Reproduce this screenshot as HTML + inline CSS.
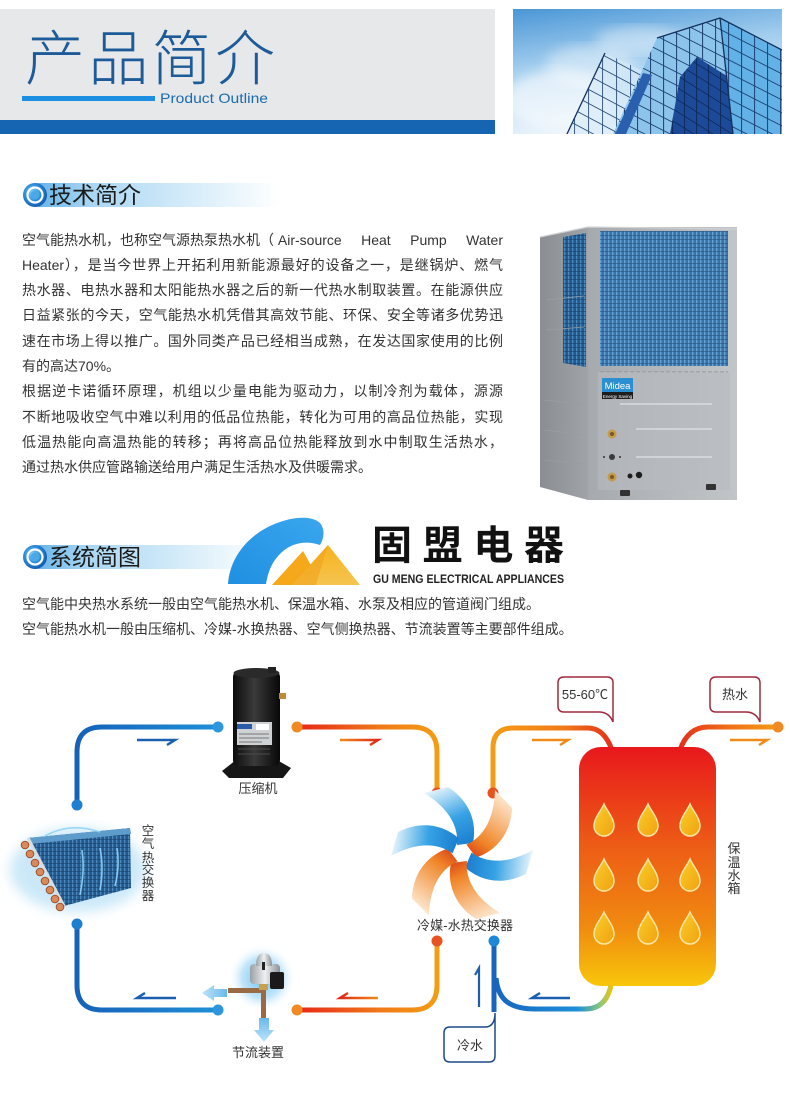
<!DOCTYPE html>
<html>
<head>
<meta charset="utf-8">
<style>
  html,body{margin:0;padding:0;background:#fff;}
  #page{position:relative;width:790px;height:1107px;overflow:hidden;background:#fff;
    font-family:"Liberation Sans","Noto Sans CJK SC",sans-serif;}
  svg{position:absolute;left:0;top:0;}
  .para{position:absolute;left:22px;top:227.5px;width:481px;font-size:14px;line-height:25.3px;color:#333;}
  .para div{height:25.3px;overflow:visible;white-space:nowrap;}
  .j{text-align:justify;text-align-last:justify;white-space:normal !important;}
  .fx{display:flex;justify-content:space-between;}
  .h2{position:absolute;left:49px;font-size:23px;line-height:30px;color:#1b1b1b;}
  .intro{position:absolute;left:22px;font-size:14px;line-height:20px;color:#333;white-space:nowrap;}
</style>
</head>
<body>
<div id="page">
<svg width="790" height="1107" viewBox="0 0 790 1107" xmlns="http://www.w3.org/2000/svg">
  <defs>
    <linearGradient id="sky" x1="0" y1="0" x2="0.3" y2="1">
      <stop offset="0" stop-color="#4a96d6"/>
      <stop offset="0.45" stop-color="#a2cdee"/>
      <stop offset="1" stop-color="#eef6fc"/>
    </linearGradient>
    <filter id="blur6"><feGaussianBlur stdDeviation="6"/></filter>
    <pattern id="gridA" width="13" height="13" patternUnits="userSpaceOnUse" patternTransform="skewY(27)">
      <path d="M0,0.5 H13 M0.5,0 V13" stroke="#1d3f72" stroke-width="1" fill="none"/>
    </pattern>
    <pattern id="gridB" width="12" height="12" patternUnits="userSpaceOnUse" patternTransform="skewY(32)">
      <path d="M0,0.5 H12 M0.5,0 V12" stroke="#0e2a5c" stroke-width="1" fill="none"/>
    </pattern>
    <pattern id="gridL" width="14" height="14" patternUnits="userSpaceOnUse" patternTransform="skewY(28)">
      <path d="M0,0.5 H14 M0.5,0 V14" stroke="#2c4f7a" stroke-width="0.9" fill="none"/>
    </pattern>
    <clipPath id="bclip"><rect x="513" y="9" width="269" height="125"/></clipPath>

    <linearGradient id="hbar" x1="0" y1="0" x2="1" y2="0">
      <stop offset="0" stop-color="#5aaee6"/>
      <stop offset="0.25" stop-color="#a9d6f3"/>
      <stop offset="0.7" stop-color="#dcefFA"/>
      <stop offset="1" stop-color="#ffffff"/>
    </linearGradient>
    <radialGradient id="icon" cx="0.4" cy="0.4" r="0.6">
      <stop offset="0" stop-color="#8fd2f6"/>
      <stop offset="0.6" stop-color="#2a8ad6"/>
      <stop offset="1" stop-color="#145fae"/>
    </radialGradient>

    <linearGradient id="mfront" x1="0" y1="0" x2="1" y2="0">
      <stop offset="0" stop-color="#a6aaae"/>
      <stop offset="1" stop-color="#c2c5c8"/>
    </linearGradient>
    <linearGradient id="mside" x1="0" y1="0" x2="1" y2="0">
      <stop offset="0" stop-color="#8a8e92"/>
      <stop offset="1" stop-color="#a0a4a8"/>
    </linearGradient>
    <pattern id="coil" width="4" height="4" patternUnits="userSpaceOnUse">
      <rect width="4" height="4" fill="#2c6aa3"/>
      <rect width="1.4" height="4" fill="#5b9dd0"/>
      <rect y="3.2" width="4" height="0.6" fill="#20497a"/>
    </pattern>
    <pattern id="coil2" width="4" height="4" patternUnits="userSpaceOnUse">
      <rect width="4" height="4" fill="#25598d"/>
      <rect width="1.3" height="4" fill="#4b89bd"/>
      <rect y="3.2" width="4" height="0.6" fill="#1b406b"/>
    </pattern>

    <linearGradient id="logoBlue" x1="0" y1="1" x2="1" y2="0">
      <stop offset="0" stop-color="#1f8fe0"/>
      <stop offset="1" stop-color="#3aa6ee"/>
    </linearGradient>
    <linearGradient id="logoY" x1="0" y1="0" x2="0" y2="1">
      <stop offset="0" stop-color="#f7b21c"/>
      <stop offset="1" stop-color="#f5c451"/>
    </linearGradient>

    <linearGradient id="blueH" gradientUnits="userSpaceOnUse" x1="77" y1="0" x2="218" y2="0">
      <stop offset="0" stop-color="#1562b8"/>
      <stop offset="1" stop-color="#1f8fd8"/>
    </linearGradient>
    <linearGradient id="redH" gradientUnits="userSpaceOnUse" x1="297" y1="0" x2="437" y2="0">
      <stop offset="0" stop-color="#e8261a"/>
      <stop offset="0.6" stop-color="#f07a18"/>
      <stop offset="1" stop-color="#f49c14"/>
    </linearGradient>
    <linearGradient id="orgR" gradientUnits="userSpaceOnUse" x1="493" y1="0" x2="612" y2="0">
      <stop offset="0" stop-color="#f49c14"/>
      <stop offset="0.6" stop-color="#f07a18"/>
      <stop offset="1" stop-color="#e4301a"/>
    </linearGradient>
    <linearGradient id="hotOut" gradientUnits="userSpaceOnUse" x1="680" y1="0" x2="778" y2="0">
      <stop offset="0" stop-color="#e4301a"/>
      <stop offset="0.5" stop-color="#f07018"/>
      <stop offset="1" stop-color="#f49c14"/>
    </linearGradient>
    <linearGradient id="coldRet" gradientUnits="userSpaceOnUse" x1="496" y1="0" x2="612" y2="0">
      <stop offset="0" stop-color="#1666c0"/>
      <stop offset="0.7" stop-color="#1e8fd8"/>
      <stop offset="0.9" stop-color="#8cc87a"/>
      <stop offset="1" stop-color="#f2c20e"/>
    </linearGradient>
    <linearGradient id="arrR" gradientUnits="userSpaceOnUse" x1="340" y1="0" x2="378" y2="0">
      <stop offset="0" stop-color="#f08a18"/>
      <stop offset="1" stop-color="#e02a18"/>
    </linearGradient>
    <linearGradient id="arrR2" gradientUnits="userSpaceOnUse" x1="340" y1="0" x2="378" y2="0">
      <stop offset="0" stop-color="#e02a18"/>
      <stop offset="1" stop-color="#f08a18"/>
    </linearGradient>

    <linearGradient id="tank" x1="0" y1="0" x2="0" y2="1">
      <stop offset="0" stop-color="#e8181c"/>
      <stop offset="0.4" stop-color="#ed5a16"/>
      <stop offset="0.75" stop-color="#f08a10"/>
      <stop offset="1" stop-color="#f8c60a"/>
    </linearGradient>
    <linearGradient id="drop" x1="0" y1="0" x2="1" y2="1">
      <stop offset="0" stop-color="#f8d02a"/>
      <stop offset="1" stop-color="#f2a010"/>
    </linearGradient>
    <g id="dropShape">
      <path d="M0,-16 C3,-9 10,-2 10,6 A10,10 0 0 1 -10,6 C-10,-2 -3,-9 0,-16 Z" fill="url(#drop)" stroke="#fde6a2" stroke-width="1.5"/>
    </g>

    <linearGradient id="bladeB" gradientUnits="userSpaceOnUse" x1="0" y1="0" x2="-28" y2="-64">
      <stop offset="0" stop-color="#1577cc"/>
      <stop offset="0.5" stop-color="#36a2e4"/>
      <stop offset="1" stop-color="#e6f4fc"/>
    </linearGradient>
    <linearGradient id="bladeO" gradientUnits="userSpaceOnUse" x1="0" y1="0" x2="-28" y2="-64">
      <stop offset="0" stop-color="#d63a16"/>
      <stop offset="0.3" stop-color="#f08426"/>
      <stop offset="1" stop-color="#fde8cf"/>
    </linearGradient>
    <path id="blade" d="M-5,-8 C-3,-28 -15,-46 -38,-60 L-14,-66 C9,-51 15,-29 11,-10 Z"/>

    <linearGradient id="compBody" x1="0" y1="0" x2="1" y2="0">
      <stop offset="0" stop-color="#0b0b0b"/>
      <stop offset="0.45" stop-color="#3a3a3a"/>
      <stop offset="1" stop-color="#080808"/>
    </linearGradient>
    <radialGradient id="glow" cx="0.5" cy="0.5" r="0.5">
      <stop offset="0" stop-color="#5cb8f0" stop-opacity="0.95"/>
      <stop offset="0.6" stop-color="#9ad4f6" stop-opacity="0.6"/>
      <stop offset="1" stop-color="#ffffff" stop-opacity="0"/>
    </radialGradient>
    <linearGradient id="silver" x1="0" y1="0" x2="1" y2="0">
      <stop offset="0" stop-color="#9aa0a6"/>
      <stop offset="0.5" stop-color="#eef0f2"/>
      <stop offset="1" stop-color="#8a9096"/>
    </linearGradient>
    <linearGradient id="lbArrow" x1="1" y1="0" x2="0" y2="0">
      <stop offset="0" stop-color="#58b2ea"/>
      <stop offset="1" stop-color="#b8e0f8"/>
    </linearGradient>
    <linearGradient id="lbArrowD" x1="0" y1="0" x2="0" y2="1">
      <stop offset="0" stop-color="#58b2ea"/>
      <stop offset="1" stop-color="#b8e0f8"/>
    </linearGradient>
  </defs>

  <!-- ===== HEADER ===== -->
  <rect x="0" y="9" width="495" height="111" fill="#e7e8ea"/>
  <rect x="0" y="120" width="495" height="14" fill="#1565b3"/>
  <rect x="22" y="96" width="133" height="5" fill="#1d8fe0"/>
  <text x="25" y="80" font-family="'Liberation Sans','Noto Sans CJK SC',sans-serif" font-size="60" font-weight="300" fill="#1d5b98" textLength="250" lengthAdjust="spacing">产品简介</text>
  <text x="160" y="103" font-family="'Liberation Sans',sans-serif" font-size="14" fill="#1a6cb0" textLength="108" lengthAdjust="spacingAndGlyphs">Product Outline</text>

  <!-- building image -->
  <g clip-path="url(#bclip)">
    <rect x="513" y="9" width="269" height="125" fill="url(#sky)"/>
    <ellipse cx="560" cy="100" rx="55" ry="30" fill="#ffffff" opacity="0.6" filter="url(#blur6)"/>
    <ellipse cx="640" cy="40" rx="45" ry="14" fill="#ffffff" opacity="0.4" filter="url(#blur6)"/>
    <ellipse cx="590" cy="65" rx="45" ry="20" fill="#ffffff" opacity="0.4" filter="url(#blur6)"/>
    <!-- left wing -->
    <polygon points="605,53 662,80 655,134 567,134" fill="#d6eaf8" opacity="0.6"/>
    <polygon points="605,53 662,80 655,134 567,134" fill="url(#gridL)"/>
    <!-- mid wing -->
    <polygon points="657,38 720,18 733,80 733,134 613,134" fill="#8cc4ec"/>
    <polygon points="657,38 720,18 733,80 733,134 613,134" fill="url(#gridA)"/>
    <!-- dark strip -->
    <polygon points="643,73 652,75 626,134 615,134" fill="#2a5fae"/>
    <!-- dark face -->
    <polygon points="680,77 697,57 733,80 733,134 670,134" fill="#1d4a98"/>
    <polygon points="680,77 697,57 733,80 733,134 670,134" fill="url(#gridB)"/>
    <!-- right tower -->
    <polygon points="720,18 782,50 782,134 733,134" fill="#62b2e8"/>
    <polygon points="720,18 782,50 782,134 733,134" fill="url(#gridA)"/>
    <path d="M720,18 L733,134 M720,18 L782,50 M720,18 L657,38 M605,53 L567,134" stroke="#14305c" stroke-width="1.3" fill="none"/>
  </g>

  <!-- ===== SECTION HEADING 1 ===== -->
  <rect x="27" y="183" width="253" height="24" rx="12" fill="url(#hbar)"/>
  <circle cx="35" cy="195" r="12" fill="url(#icon)"/>
  <circle cx="35" cy="195" r="7.5" fill="none" stroke="#ffffff" stroke-width="2.2"/>
  <circle cx="35" cy="195" r="4.5" fill="#4aa8e8"/>

  <!-- ===== MACHINE ===== -->
  <g>
    <polygon points="540,237 588,227 588,500 540,487" fill="url(#mside)"/>
    <rect x="588" y="227" width="149" height="273" fill="url(#mfront)"/>
    <path d="M540,237 L588,227 L737,229" stroke="#d0d3d6" stroke-width="1.2" fill="none"/>
    <polygon points="563,237 586,233 586,367 563,363" fill="url(#coil2)"/>
    <rect x="600" y="231" width="128" height="135" fill="url(#coil)"/>
    <rect x="600" y="231" width="128" height="135" fill="#ffffff" opacity="0.06"/>
    <path d="M600,372 H728" stroke="#8a8e92" stroke-width="1" stroke-dasharray="4,2"/>
    <rect x="598" y="372" width="132" height="118" fill="#b7bbbf" opacity="0.6"/>
    <path d="M620,404 H712 M636,429 H712 M636,457 H712" stroke="#d9dcdf" stroke-width="1.4"/>
    <path d="M546,300 L584,296 M546,330 L584,327 M544,400 L584,404 M544,430 L584,435 M544,460 L584,464" stroke="#9a9ea2" stroke-width="0.8"/>
    <rect x="602" y="378" width="31" height="14" fill="#2b8fd2"/>
    <text x="617.5" y="389" font-family="'Liberation Sans',sans-serif" font-size="9.5" fill="#fff" text-anchor="middle">Midea</text>
    <rect x="602" y="392" width="31" height="7" fill="#1e1e1e"/>
    <text x="617.5" y="398" font-family="'Liberation Sans',sans-serif" font-size="4.5" fill="#fff" text-anchor="middle">Energy Saving</text>
    <circle cx="612" cy="434" r="4.5" fill="#c59a4a"/><circle cx="612" cy="434" r="2" fill="#7a5a20"/>
    <circle cx="612" cy="457" r="3" fill="#3a3a3a"/>
    <circle cx="604" cy="457" r="1" fill="#333"/><circle cx="620" cy="457" r="1" fill="#333"/>
    <circle cx="612" cy="477" r="4.5" fill="#c59a4a"/><circle cx="612" cy="477" r="2" fill="#7a5a20"/>
    <circle cx="630" cy="476" r="2.5" fill="#1e1e1e"/><circle cx="639" cy="475" r="3.2" fill="#1e1e1e"/>
    <rect x="620" y="490" width="10" height="6" rx="1" fill="#333"/>
    <rect x="706" y="484" width="10" height="6" rx="1" fill="#333"/>
  </g>

  <!-- ===== SECTION HEADING 2 ===== -->
  <rect x="27" y="545" width="240" height="24" rx="12" fill="url(#hbar)"/>
  <circle cx="35" cy="557" r="12" fill="url(#icon)"/>
  <circle cx="35" cy="557" r="7.5" fill="none" stroke="#ffffff" stroke-width="2.2"/>
  <circle cx="35" cy="557" r="4.5" fill="#4aa8e8"/>

  <!-- logo -->
  <path d="M228,584 C230,556 250,532 280,522 C300,515 318,517 322,526 C325,533 323,540 320,545 C306,540 292,543 282,552 C272,561 268,572 266,584 Z" fill="url(#logoBlue)"/>
  <polygon points="272,585 303,551 322,585" fill="#f5a81a"/>
  <polygon points="292,585 328,545 360,585" fill="url(#logoY)"/>
  <polygon points="292,585 328,545 316,585" fill="#f2a21a" opacity="0.6"/>
  <text x="372" y="559" font-family="'Noto Sans CJK SC',sans-serif" font-size="40" font-weight="bold" fill="#111" textLength="192" lengthAdjust="spacing">固盟电器</text>
  <text x="373" y="583" font-family="'Liberation Sans',sans-serif" font-size="12" font-weight="bold" fill="#222" textLength="191" lengthAdjust="spacingAndGlyphs">GU MENG ELECTRICAL APPLIANCES</text>

  <!-- ===== DIAGRAM ===== -->
  <!-- air heat exchanger -->
  <ellipse cx="78" cy="870" rx="68" ry="42" fill="#bfe3f7" opacity="0.8" filter="url(#blur6)"/>
  <polygon points="28,838 130,828 131,888 64,906" fill="url(#coil2)"/>
  <polygon points="28,838 130,828 131,834 30,844" fill="#5e9ccc"/>
  <path d="M28,838 L64,906" stroke="#d8dde2" stroke-width="3"/>
  <g fill="#d98a5a" stroke="#a04f28" stroke-width="1">
    <circle cx="25" cy="845" r="3.8"/><circle cx="30" cy="854" r="3.8"/><circle cx="35" cy="863" r="3.8"/>
    <circle cx="40" cy="872" r="3.8"/><circle cx="45" cy="881" r="3.8"/><circle cx="50" cy="890" r="3.8"/>
    <circle cx="55" cy="899" r="3.8"/><circle cx="60" cy="907" r="3.8"/>
  </g>
  <path d="M45,836 Q70,822 100,832 M80,895 Q85,870 82,850 M100,890 Q104,868 100,848 M115,886 Q120,866 117,848" stroke="#8fd4f6" stroke-width="1.6" fill="none" opacity="0.9"/>
  <g font-family="'Liberation Sans','Noto Sans CJK SC',sans-serif" font-size="12.5" fill="#333" text-anchor="middle">
    <text x="148" y="835">空</text><text x="148" y="848">气</text><text x="148" y="862">热</text>
    <text x="148" y="874">交</text><text x="148" y="887">换</text><text x="148" y="900">器</text>
  </g>

  <!-- compressor -->
  <polygon points="222,771 236,760 277,760 291,768 283,778 229,778" fill="#161616"/>
  <rect x="233" y="671" width="47" height="95" rx="6" fill="url(#compBody)"/>
  <ellipse cx="256.5" cy="673" rx="23" ry="5" fill="#2a2a2a"/>
  <rect x="268" y="667" width="8" height="6" fill="#222"/>
  <rect x="279" y="693" width="7" height="6" fill="#c08a3a"/>
  <rect x="237" y="722" width="35" height="23" fill="#cfd2d4"/>
  <rect x="237" y="724" width="15" height="5" fill="#2a5aa8"/>
  <rect x="256" y="724" width="13" height="6" fill="#fff"/>
  <path d="M239,734 H269 M239,738 H269 M239,742 H262" stroke="#777" stroke-width="1"/>
  <path d="M238,749 H270 M238,754 H270" stroke="#4a4a4a" stroke-width="1"/>
  <text x="258" y="793" font-family="'Liberation Sans','Noto Sans CJK SC',sans-serif" font-size="13" fill="#333" text-anchor="middle">压缩机</text>

  <!-- top blue pipe -->
  <path d="M77,805 V752 Q77,727 102,727 H218" stroke="url(#blueH)" stroke-width="5" fill="none"/>
  <circle cx="77" cy="805" r="5.5" fill="#1e7fd0"/>
  <circle cx="218" cy="727" r="5.5" fill="#2e96dc"/>
  <path d="M137,740 H175 L167,745" stroke="#1a5fb0" stroke-width="2.5" fill="none"/>

  <!-- top red pipe -->
  <path d="M297,727 H412 Q437,727 437,752 V793" stroke="url(#redH)" stroke-width="5" fill="none"/>
  <circle cx="297" cy="727" r="5.5" fill="#f08a22"/>
  <circle cx="437" cy="793" r="5.5" fill="#e8521e"/>
  <path d="M340,740 H378 L370,745" stroke="url(#arrR)" stroke-width="2.5" fill="none"/>

  <!-- pipe to tank -->
  <path d="M493,793 V748 Q493,728 513,728 H588 Q604,728 612,750" stroke="url(#orgR)" stroke-width="5" fill="none"/>
  <circle cx="493" cy="793" r="5.5" fill="#e8521e"/>
  <path d="M532,740 H568 L560,745" stroke="#f08a18" stroke-width="2.5" fill="none"/>

  <!-- hot water out -->
  <path d="M680,750 Q688,727 708,727 H778" stroke="url(#hotOut)" stroke-width="5" fill="none"/>
  <circle cx="778" cy="727" r="5.5" fill="#f08a22"/>
  <path d="M730,740 H767 L759,745" stroke="#f08a18" stroke-width="2.5" fill="none"/>

  <!-- callouts -->
  <path d="M564,677 H607 Q613,677 613,683 V722 Q609,712 599,712 H564 Q558,712 558,706 V683 Q558,677 564,677 Z" fill="#fff" stroke="#a0283c" stroke-width="1.5"/>
  <text x="585" y="699" font-family="'Liberation Sans','Noto Sans CJK SC',sans-serif" font-size="13" fill="#333" text-anchor="middle">55-60℃</text>
  <path d="M716,677 H754 Q760,677 760,683 V722 Q756,712 746,712 H716 Q710,712 710,706 V683 Q710,677 716,677 Z" fill="#fff" stroke="#a0283c" stroke-width="1.5"/>
  <text x="735" y="699" font-family="'Liberation Sans','Noto Sans CJK SC',sans-serif" font-size="13" fill="#333" text-anchor="middle">热水</text>

  <!-- tank -->
  <rect x="579" y="747" width="137" height="239" rx="22" fill="url(#tank)"/>
  <use href="#dropShape" x="604" y="820"/><use href="#dropShape" x="648" y="820"/><use href="#dropShape" x="690" y="820"/>
  <use href="#dropShape" x="604" y="875"/><use href="#dropShape" x="648" y="875"/><use href="#dropShape" x="690" y="875"/>
  <use href="#dropShape" x="604" y="928"/><use href="#dropShape" x="648" y="928"/><use href="#dropShape" x="690" y="928"/>
  <g font-family="'Liberation Sans','Noto Sans CJK SC',sans-serif" font-size="13" fill="#333" text-anchor="middle">
    <text x="734" y="853">保</text><text x="734" y="867">温</text><text x="734" y="880">水</text><text x="734" y="893">箱</text>
  </g>

  <!-- fan -->
  <g transform="translate(462,853)">
    <use href="#blade" fill="url(#bladeB)" transform="rotate(0)"/>
    <use href="#blade" fill="url(#bladeO)" transform="rotate(60)"/>
    <use href="#blade" fill="url(#bladeB)" transform="rotate(120)"/>
    <use href="#blade" fill="url(#bladeO)" transform="rotate(180)"/>
    <use href="#blade" fill="url(#bladeO)" transform="rotate(240)"/>
    <use href="#blade" fill="url(#bladeB)" transform="rotate(300)"/>
  </g>
  <text x="465" y="930" font-family="'Liberation Sans','Noto Sans CJK SC',sans-serif" font-size="13" fill="#333" text-anchor="middle" textLength="96" lengthAdjust="spacing">冷媒-水热交换器</text>

  <!-- bottom left blue pipe -->
  <path d="M77,924 V985 Q77,1010 102,1010 H218" stroke="url(#blueH)" stroke-width="5" fill="none"/>
  <circle cx="77" cy="924" r="5.5" fill="#1e7fd0"/>
  <circle cx="218" cy="1010" r="5.5" fill="#2e96dc"/>
  <path d="M176,998 H137 L145,993" stroke="#1a5fb0" stroke-width="2.5" fill="none"/>

  <!-- bottom red pipe -->
  <path d="M297,1010 H412 Q437,1010 437,985 V941" stroke="url(#redH)" stroke-width="5" fill="none"/>
  <circle cx="297" cy="1010" r="5.5" fill="#f08a22"/>
  <circle cx="437" cy="941" r="5.5" fill="#e8521e"/>
  <path d="M378,998 H340 L348,993" stroke="url(#arrR2)" stroke-width="2.5" fill="none"/>

  <!-- expansion valve -->
  <circle cx="262" cy="978" r="34" fill="url(#glow)"/>
  <rect x="228" y="988" width="35" height="5" fill="#9a6a44"/>
  <rect x="261" y="984" width="5" height="34" fill="#9a6a44"/>
  <rect x="259" y="984" width="9" height="6" fill="#c8a050"/>
  <rect x="250" y="964" width="30" height="20" rx="4" fill="url(#silver)"/>
  <path d="M256,966 Q256,953 264,953 Q272,953 272,966 Z" fill="url(#silver)"/>
  <rect x="262" y="962" width="3" height="8" fill="#222"/>
  <rect x="270" y="972" width="14" height="17" rx="2" fill="#1a1a1a"/>
  <polygon points="227,989 214,989 214,985 202,993 214,1001 214,997 227,997" fill="url(#lbArrow)" opacity="0.9"/>
  <polygon points="259,1018 269,1018 269,1030 274,1030 264,1042 254,1030 259,1030" fill="url(#lbArrowD)" opacity="0.9"/>
  <text x="258" y="1057" font-family="'Liberation Sans','Noto Sans CJK SC',sans-serif" font-size="13" fill="#333" text-anchor="middle">节流装置</text>

  <!-- cold water -->
  <path d="M496,978 C498,1000 510,1009 535,1009 H585 C600,1009 608,1000 611,985" stroke="url(#coldRet)" stroke-width="5" fill="none"/>
  <path d="M494,941 V1012" stroke="#1a64bc" stroke-width="5" fill="none"/>
  <circle cx="494" cy="941" r="5.5" fill="#1e88d8"/>
  <path d="M479,1007 V968 L475,975" stroke="#1a5fb0" stroke-width="2.2" fill="none"/>
  <path d="M570,998 H532 L540,993" stroke="#1a5fb0" stroke-width="2.5" fill="none"/>
  <path d="M450,1027 H485 Q495,1027 495,1013 V1056 Q495,1062 489,1062 H450 Q444,1062 444,1056 V1033 Q444,1027 450,1027 Z" fill="#fff" stroke="#1a4a8a" stroke-width="1.5"/>
  <text x="470" y="1050" font-family="'Liberation Sans','Noto Sans CJK SC',sans-serif" font-size="13" fill="#333" text-anchor="middle">冷水</text>
</svg>

<div class="h2" style="top:180px;">技术简介</div>
<div class="para">
  <div class="fx"><span>空气能热水机，也称空气源热泵热水机（ Air-source</span><span>Heat</span><span>Pump</span><span>Water</span></div>
  <div class="j">Heater），是当今世界上开拓利用新能源最好的设备之一，是继锅炉、燃气</div>
  <div class="j">热水器、电热水器和太阳能热水器之后的新一代热水制取装置。在能源供应</div>
  <div class="j">日益紧张的今天，空气能热水机凭借其高效节能、环保、安全等诸多优势迅</div>
  <div class="j">速在市场上得以推广。国外同类产品已经相当成熟，在发达国家使用的比例</div>
  <div>有的高达70%。</div>
  <div class="j">根据逆卡诺循环原理，机组以少量电能为驱动力，以制冷剂为载体，源源</div>
  <div class="j">不断地吸收空气中难以利用的低品位热能，转化为可用的高品位热能，实现</div>
  <div class="j">低温热能向高温热能的转移；再将高品位热能释放到水中制取生活热水，</div>
  <div>通过热水供应管路输送给用户满足生活热水及供暖需求。</div>
</div>

<div class="h2" style="top:542px;">系统简图</div>
<div class="intro" style="top:594px;">空气能中央热水系统一般由空气能热水机、保温水箱、水泵及相应的管道阀门组成。</div>
<div class="intro" style="top:619px;">空气能热水机一般由压缩机、冷媒-水换热器、空气侧换热器、节流装置等主要部件组成。</div>
</div>
</body>
</html>
